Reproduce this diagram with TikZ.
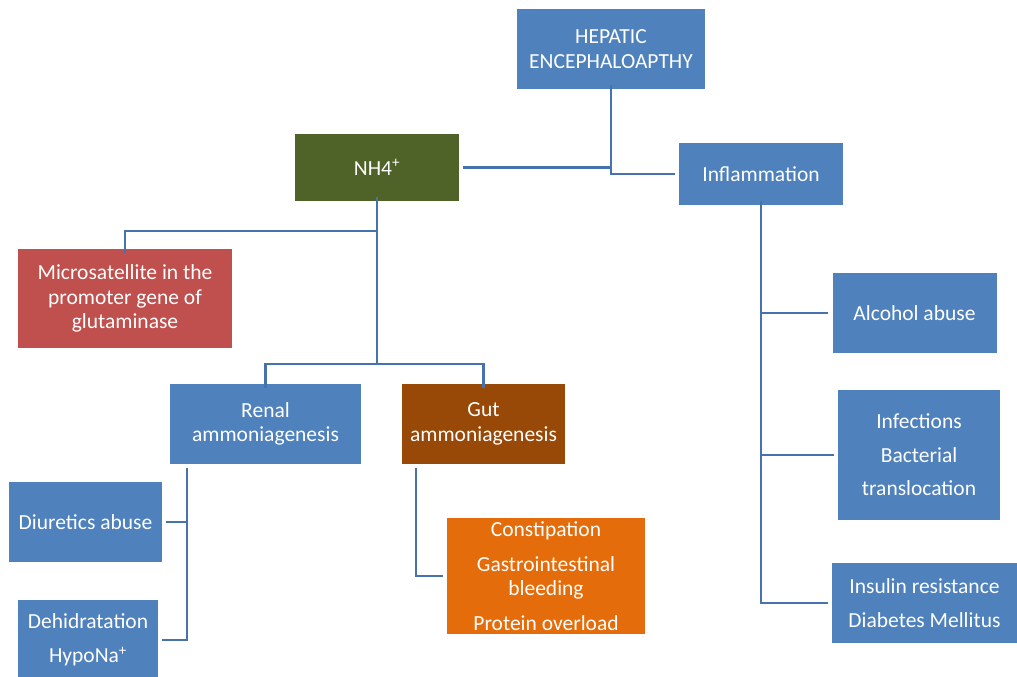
\documentclass[tikz,border=0pt]{standalone}
\usepackage{fontspec}
\setmainfont{Carlito}
\definecolor{cblue}{HTML}{4F81BD}
\definecolor{cline}{HTML}{4672AE}
\definecolor{cgreen}{HTML}{4F6228}
\definecolor{cred}{HTML}{C0504D}
\definecolor{cbrown}{HTML}{984807}
\definecolor{corange}{HTML}{E46C0A}
\begin{document}
\begin{tikzpicture}[x=1pt,y=-1pt,
  box/.style={rectangle, inner sep=0pt, align=center, text=white,
    font=\fontsize{21.5}{24.5}\selectfont, fill=cblue},
  conn/.style={draw=cline, line width=2.7pt}]
\useasboundingbox (0,0) rectangle (1017,677);
% boxes
\node[box, minimum width=188, minimum height=80] (hep) at (611,49) {HEPATIC\\ENCEPHALOAPTHY};
\node[box, fill=cgreen, minimum width=164, minimum height=67] (nh4) at (377,167.5) {NH4\textsuperscript{+}};
\node[box, minimum width=164, minimum height=62] (infl) at (761,174) {Inflammation};
\node[box, fill=cred, minimum width=214, minimum height=99] (micro) at (125,298.5) {Microsatellite in the\\promoter gene of\\glutaminase};
\node[box, minimum width=191, minimum height=80] (renal) at (265.5,424) {Renal\\ammoniagenesis};
\node[box, fill=cbrown, minimum width=163, minimum height=80] (gut) at (483.5,424) {Gut\\ammoniagenesis};
\node[box, minimum width=153, minimum height=80] (diur) at (85.5,522) {Diuretics abuse};
\node[box, minimum width=140, minimum height=80] (dehy) at (88,640) {Dehidratation\\[10pt]HypoNa\textsuperscript{+}};
\node[box, fill=corange, minimum width=198, minimum height=116] (const) at (546,576) {Constipation\\[10pt]Gastrointestinal\\bleeding\\[10pt]Protein overload};
\node[box, minimum width=164, minimum height=80] (alc) at (914.5,313) {Alcohol abuse};
\node[box, minimum width=162, minimum height=130] (infe) at (919,455) {Infections\\[9pt]Bacterial\\[9pt]translocation};
\node[box, minimum width=185, minimum height=80] (ins) at (924.5,603) {Insulin resistance\\[9pt]Diabetes Mellitus};
% junction coordinates
\coordinate (hepj) at ([yshift=4]hep.south);
\coordinate (nhj) at ([yshift=4]nh4.south);
\coordinate (nhbar) at (377,364);
\coordinate (microbar) at (377,231);
\coordinate (renalj) at (187,468);
\coordinate (gutj) at (416,468);
\coordinate (inflj) at ([yshift=4]infl.south);
% connectors
\draw[conn] (hepj) |- ([xshift=-4]infl.west);
\draw[conn] ([xshift=4]nh4.east) -- (nh4.east -| hepj);
\draw[conn] (nhj) -- (nhbar);
\draw[conn] ([yshift=-4]renal.north) |- (nhbar) -| ([yshift=-4]gut.north);
\draw[conn] (microbar) -| ([yshift=-4]micro.north);
\draw[conn] (renalj) |- ([xshift=4]dehy.east);
\draw[conn] (renalj |- diur.east) -- ([xshift=4]diur.east);
\draw[conn] (gutj) |- ([xshift=-4]const.west);
\draw[conn] (inflj) |- ([xshift=-4]ins.west);
\draw[conn] (inflj |- alc.west) -- ([xshift=-4]alc.west);
\draw[conn] (inflj |- infe.west) -- ([xshift=-4]infe.west);
\end{tikzpicture}
\end{document}
